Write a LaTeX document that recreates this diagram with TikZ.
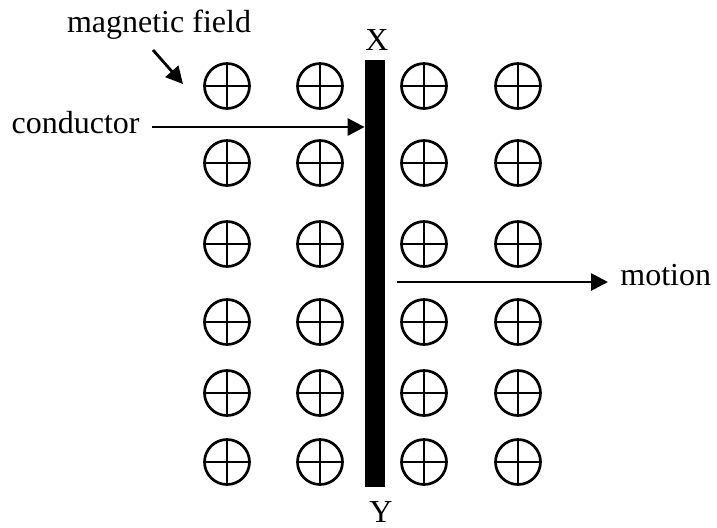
\documentclass[tikz,border=0pt]{standalone}
\usepackage{fontspec}
\setmainfont{Liberation Serif}
\usetikzlibrary{positioning,arrows.meta}

\tikzset{
  fieldpt/.style={circle,draw,line width=1.35pt,minimum size=22.5pt,inner sep=0pt,
    path picture={\draw[line width=1.3pt] (path picture bounding box.north) -- (path picture bounding box.south)
      (path picture bounding box.west) -- (path picture bounding box.east);}},
  lbl/.style={font=\fontsize{16}{19}\selectfont,inner sep=2pt},
  pointer/.style={-{Triangle[length=8.5pt,width=8.5pt]},line width=1.4pt}
}

\begin{document}
\begin{tikzpicture}[x=0.5pt,y=-0.5pt]
\useasboundingbox (0,0) rectangle (717,527);
% field points, into the page
\foreach \cx [count=\i] in {227,320,424,518}
  \foreach \cy [count=\j] in {86,163,244,322,393,462}
    \node[fieldpt] (c\j\i) at (\cx,\cy) {};
% the conductor
\node[fill=black,inner sep=0pt,minimum width=10pt,minimum height=213.5pt] (bar) at (375,273.5) {};
\node[lbl,above=2.5pt of bar,xshift=1pt] (xend) {X};
\node[lbl,below=5pt of bar,xshift=3pt] (yend) {Y};
% labels
\node[lbl,anchor=base] (mfield) at (159,32) {magnetic field};
\node[lbl,anchor=base east,inner xsep=6pt] (cond) at (152,133) {conductor};
\node[lbl,anchor=base west,inner xsep=6pt] (motion) at (608,285) {motion};
% arrows
\coordinate (mtail) at (153,50);
\coordinate (mtip) at (183,84);
\draw[pointer] (mtail) -- (mtip);
\coordinate (cstart) at (152,127);
\draw[pointer] (cstart) -- (cstart -| bar.west);
\coordinate (mstart) at (397,282);
\draw[pointer] (mstart) -- (mstart -| motion.west);
\end{tikzpicture}
\end{document}
